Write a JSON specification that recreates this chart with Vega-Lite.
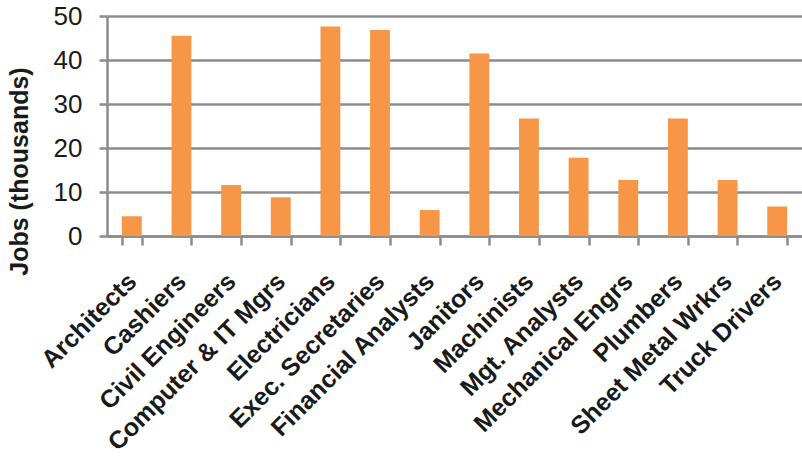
{
  "$schema": "https://vega.github.io/schema/vega-lite/v6.json",
  "autosize": {"type": "none"},
  "padding": {"left": 107, "top": 16, "right": 0, "bottom": 220},
  "width": 695,
  "height": 220,
  "data": {"values": [
    {"job": "Architects", "value": 4.5},
    {"job": "Cashiers", "value": 45.5},
    {"job": "Civil Engineers", "value": 11.6},
    {"job": "Computer & IT Mgrs", "value": 8.8},
    {"job": "Electricians", "value": 47.6},
    {"job": "Exec. Secretaries", "value": 46.8},
    {"job": "Financial Analysts", "value": 5.9},
    {"job": "Janitors", "value": 41.5},
    {"job": "Machinists", "value": 26.7},
    {"job": "Mgt. Analysts", "value": 17.8},
    {"job": "Mechanical Engrs", "value": 12.7},
    {"job": "Plumbers", "value": 26.7},
    {"job": "Sheet Metal Wrkrs", "value": 12.7},
    {"job": "Truck Drivers", "value": 6.7}
  ]},
  "config": {
    "view": {"stroke": null},
    "font": "Liberation Sans"
  },
  "mark": {"type": "bar", "color": "#F79646"},
  "encoding": {
    "x": {
      "field": "job", "type": "nominal", "sort": null,
      "scale": {"paddingInner": 0.6, "paddingOuter": 0.3},
      "axis": {
        "title": null, "labelAngle": -45, "labelAlign": "right", "labelBaseline": "middle",
        "labelFont": "Liberation Sans", "labelFontSize": 25, "labelFontWeight": "bold", "labelColor": "#1a1a1a",
        "labelPadding": 32, "tickBand": "extent", "tickSize": 9, "tickWidth": 2.5, "tickColor": "#8c8c8c",
        "domainColor": "#8c8c8c", "domainWidth": 2.5, "grid": false, "labelLimit": 400
      }
    },
    "y": {
      "field": "value", "type": "quantitative",
      "scale": {"domain": [0, 50], "nice": false},
      "axis": {
        "title": "Jobs (thousands)", "titleFont": "Liberation Sans", "titleFontSize": 25, "titleFontWeight": "bold",
        "titleColor": "#1a1a1a", "titleX": -75, "titleY": 155, "titleBaseline": "bottom", "titleAngle": -90, "titleAlign": "center",
        "values": [0, 10, 20, 30, 40, 50], "labelFontSize": 26, "labelColor": "#1a1a1a", "labelPadding": 17,
        "gridColor": "#8c8c8c", "gridWidth": 2.5, "domain": true, "domainColor": "#8c8c8c", "domainWidth": 2.5,
        "tickSize": 8, "tickWidth": 2.5, "tickColor": "#8c8c8c"
      }
    }
  }
}
